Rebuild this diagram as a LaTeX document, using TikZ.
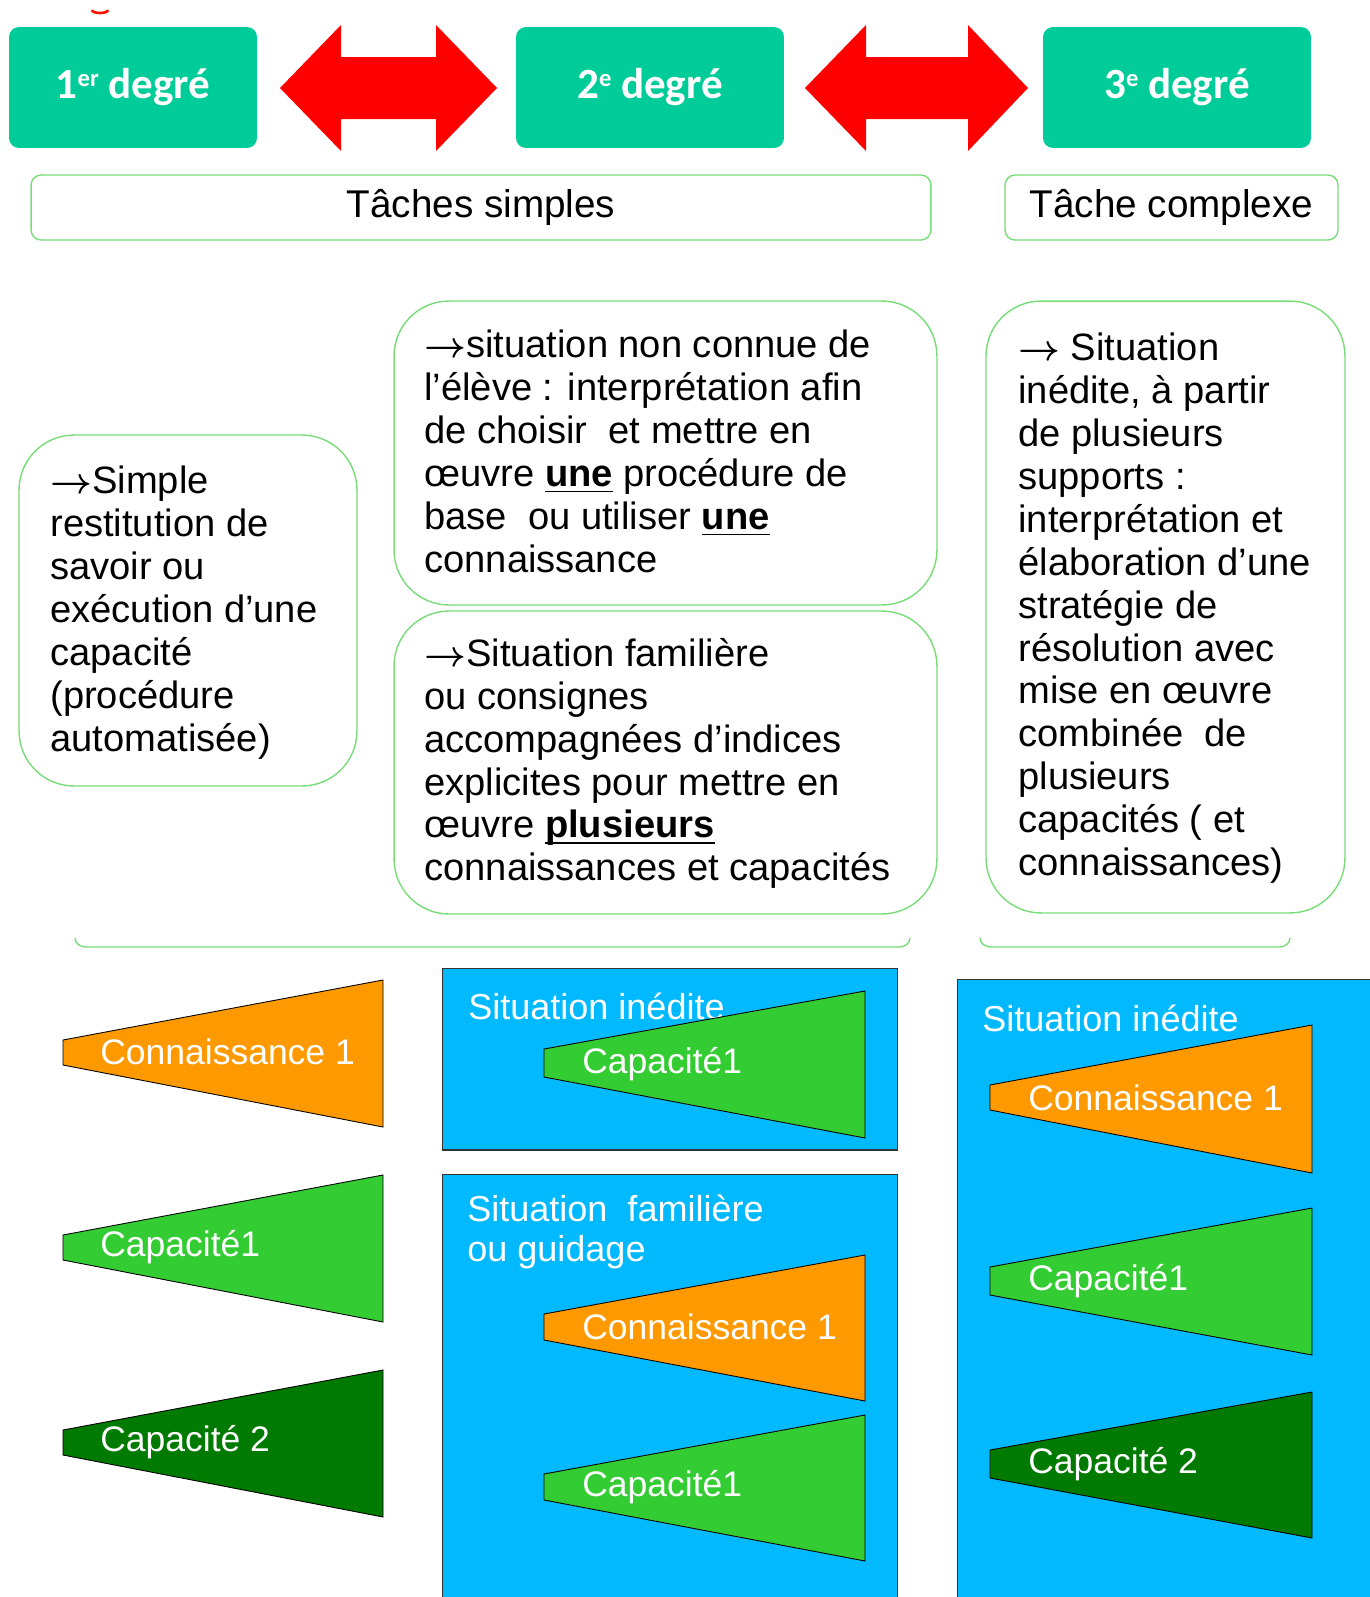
\documentclass[tikz,border=0pt]{standalone}
\usepackage{fontspec}
\setmainfont{Liberation Sans}
\newfontfamily\carlito{Carlito}
\definecolor{degcol}{RGB}{0,204,153}
\definecolor{brd}{RGB}{120,220,120}
\definecolor{sky}{RGB}{0,185,255}
\definecolor{orng}{RGB}{255,153,0}
\definecolor{lgreen}{RGB}{51,204,51}
\definecolor{dgreen}{RGB}{0,122,0}
\newcommand\ulb[1]{\underline{\smash{\textbf{#1}}}}
\newcommand\degsup[1]{\raisebox{0.62ex}{\fontsize{14}{14}\selectfont #1}}
\newcommand\arr{\ensuremath{\boldsymbol{\rightarrow}}}
\usepackage{amsmath}
\tikzset{
  degbox/.style={fill=degcol,rounded corners=0.2cm,minimum height=2.42cm,text=white,font=\carlito\bfseries\fontsize{24.5}{28}\selectfont,inner sep=0},
  tagbox/.style={draw=brd,line width=0.8pt,rounded corners=0.2cm,minimum height=1.3cm,font=\fontsize{22}{26}\selectfont,inner sep=0},
  descbox/.style={draw=brd,line width=0.8pt,rounded corners=1.1cm,inner sep=0},
  desctext/.style={anchor=north west,inner sep=0,align=left,font=\fontsize{21.7}{24.4}\selectfont},
  skybox/.style={fill=sky,draw=black!80,line width=0.6pt,inner sep=0},
  cone/.style={draw=black,line width=0.5pt},
  conetext/.style={anchor=west,inner sep=0,text=white,font=\fontsize{20.2}{24}\selectfont},
  sitlabel/.style={anchor=west,inner sep=0,text=white,align=left,font=\fontsize{20.5}{22.7}\selectfont},
  bigarrow/.style={fill=red},
  bracket/.style={draw=brd,line width=0.8pt}
}
\begin{document}
\begin{tikzpicture}[x=0.02cm,y=-0.02cm]
\useasboundingbox (0,0) rectangle (1370,1597);
% tiny red remnant at top
\draw[red!85!orange,line width=1.5pt] (92,10) arc[start angle=180,end angle=360,x radius=8,y radius=-3];
% degree boxes
\node[degbox,minimum width=4.96cm] (d1) at (133,87.5) {1\degsup{er} degré};
\node[degbox,minimum width=5.36cm] (d2) at (650,87.5) {2\degsup{e} degré};
\node[degbox,minimum width=5.36cm] (d3) at (1177,87.5) {3\degsup{e} degré};
% red double arrows
\fill[bigarrow] (280,88) -- (341,25) -- (341,57) -- (436,57) -- (436,25) -- (497,88) -- (436,151) -- (436,119) -- (341,119) -- (341,151) -- cycle;
\fill[bigarrow] (805,88) -- (866,25) -- (866,57) -- (968,57) -- (968,25) -- (1028,88) -- (968,151) -- (968,119) -- (866,119) -- (866,151) -- cycle;
% task labels
\node[tagbox,minimum width=18cm] (ts) at (481,207.5) {Tâches simples};
\node[tagbox,minimum width=6.66cm] (tc) at (1171.5,207.5) {Tâche complexe};
% description boxes
\node[descbox,minimum width=6.76cm,minimum height=7.02cm] (b1) at (188,610.5) {};
\node[desctext] (t1) at (50,466) {\arr Simple\\restitution de\\savoir ou\\exécution d’une\\capacité\\(procédure\\automatisée)};
\node[descbox,minimum width=10.86cm,minimum height=6.08cm] (b2) at (665.5,453) {};
\node[desctext] (t2) at (424,330) {\arr situation non connue de\\l’élève : interprétation afin\\de choisir\ \ et mettre en\\œuvre \ulb{une} procédure de\\base\ \ ou utiliser \ulb{une}\\connaissance};
\node[descbox,minimum width=10.86cm,minimum height=6.06cm] (b3) at (665.5,762.5) {};
\node[desctext] (t3) at (424,638) {\arr Situation familière\\ou consignes\\accompagnées d’indices\\explicites pour mettre en\\œuvre \ulb{plusieurs}\\connaissances et capacités};
\node[descbox,minimum width=7.18cm,minimum height=12.24cm] (b4) at (1165.5,607) {};
\node[desctext] (t4) at (1018,333) {\arr\ Situation\\inédite, à partir\\de plusieurs\\supports :\\interprétation et\\élaboration d’une\\stratégie de\\résolution avec\\mise en œuvre\\combinée\ \ de\\plusieurs\\capacités ( et\\connaissances)};
% brackets
\draw[bracket] (75,938) to[out=-90,in=180] (86,947) -- (899,947) to[out=0,in=-90] (910,938);
\draw[bracket] (980,938) to[out=-90,in=180] (991,947) -- (1279,947) to[out=0,in=-90] (1290,938);
% left column cones
\draw[cone,fill=orng] (63,1040) -- (383,980) -- (383,1127) -- (63,1065) -- cycle;
\node[conetext] (l1) at (100,1052) {Connaissance 1};
\draw[cone,fill=lgreen] (63,1235) -- (383,1175) -- (383,1322) -- (63,1260) -- cycle;
\node[conetext] (l2) at (100,1247) {Capacité1};
\draw[cone,fill=dgreen] (63,1430) -- (383,1370) -- (383,1517) -- (63,1455) -- cycle;
\node[conetext] (l3) at (100,1442) {Capacité 2};
% blue box A
\node[skybox,minimum width=9.12cm,minimum height=3.64cm] (sa) at (670,1059) {};
\node[sitlabel] (sal) at (468,1006) {Situation inédite};
\draw[cone,fill=lgreen] (544,1049) -- (865,991) -- (865,1138) -- (544,1077) -- cycle;
\node[conetext] (a1) at (582,1064) {Capacité1};
% blue box B
\node[skybox,minimum width=9.12cm,minimum height=8.52cm] (sb) at (670,1387) {};
\node[sitlabel] (sbl) at (467,1232) {Situation\ \ familière\\ou guidage};
\draw[cone,fill=orng] (544,1314) -- (865,1255) -- (865,1401) -- (544,1340) -- cycle;
\node[conetext] (b1t) at (582,1327) {Connaissance 1};
\draw[cone,fill=lgreen] (544,1474) -- (865,1415) -- (865,1561) -- (544,1500) -- cycle;
\node[conetext] (b2t) at (582,1487) {Capacité1};
% blue box C
\node[skybox,minimum width=8.3cm,minimum height=12.44cm] (sc) at (1164.5,1290) {};
\node[sitlabel] (scl) at (982,1018) {Situation inédite};
\draw[cone,fill=orng] (990,1085) -- (1312,1025) -- (1312,1173) -- (990,1110) -- cycle;
\node[conetext] (c1) at (1028,1098) {Connaissance 1};
\draw[cone,fill=lgreen] (990,1267) -- (1312,1208) -- (1312,1355) -- (990,1295) -- cycle;
\node[conetext] (c2) at (1028,1281) {Capacité1};
\draw[cone,fill=dgreen] (990,1450) -- (1312,1392) -- (1312,1538) -- (990,1478) -- cycle;
\node[conetext] (c3) at (1028,1464) {Capacité 2};
\end{tikzpicture}
\end{document}
